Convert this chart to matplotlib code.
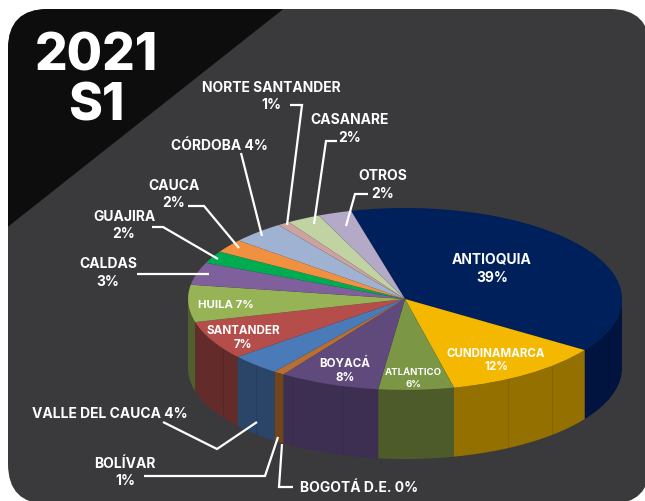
import numpy as np
import matplotlib
matplotlib.use("Agg")
import matplotlib.pyplot as plt
from matplotlib.patches import FancyBboxPatch, Polygon

plt.rcParams['font.family'] = ['Inter', 'DejaVu Sans']

regions = ["ANTIOQUIA", "CUNDINAMARCA", "ATLÁNTICO", "BOYACÁ", "BOGOTÁ D.E.", "BOLÍVAR",
           "VALLE DEL CAUCA", "SANTANDER", "HUILA", "CALDAS", "GUAJIRA", "CAUCA",
           "CÓRDOBA", "NORTE SANTANDER", "CASANARE", "OTROS"]
shares = [38.5, 11.9, 5.6, 7.5, 0.0, 0.8, 3.75, 6.9, 6.6, 4.0, 2.2, 2.4, 4.0, 0.9, 2.5, 2.5]
top_colors = ["#00205c", "#f5b800", "#7b9645", "#604a7b", "#604a7b", "#b86f33", "#4a7ab8", "#b54d4a",
              "#96b356", "#7f5f9c", "#00ac50", "#f09040", "#9fb2d2", "#cda2a0", "#c2d3a3", "#b4a9c6"]
wall_colors = ["#00143f", "#947000", "#4d5b2b", "#3d2f52", "#3d2f52", "#70441c", "#2b4569", "#632b2a",
               "#515f2f", "#3d2f52", "#005028", "#70441c", "#4a5568", "#604a4a", "#5a6248", "#544f5c"]

W, H = 645, 502
fig = plt.figure(figsize=(W / 100, H / 100), dpi=100, facecolor="white")

bg = fig.add_axes([0, 0, 1, 1])
bg.set_xlim(0, W); bg.set_ylim(H, 0); bg.axis("off")
panel = FancyBboxPatch((8 + 40, 10 + 40), 642 - 80, 495 - 80,
                       boxstyle="round,pad=40,rounding_size=40",
                       fc="#3a3a3c", ec="none")
bg.add_patch(panel)
tri = Polygon([(0, 234), (0, 0), (296, 0)], closed=True, fc="#0d0d0d", ec="none")
bg.add_patch(tri)
tri.set_clip_path(panel)

cx, cy, rx, ry, depth = 405, 300, 217, 91, 69
d = depth / ry
left, right = cx - rx, cx + rx
top, bottom = cy - ry, cy + ry + depth
ax = fig.add_axes([left / W, 1 - bottom / H, (right - left) / W, (bottom - top) / H])
wedges, _ = ax.pie(shares, colors=top_colors, startangle=104.4, counterclock=False,
                   radius=1, center=(0, 0),
                   wedgeprops=dict(linewidth=0.12, edgecolor="#00000020"))
ax.set_aspect("auto")
ax.set_xlim(-1, 1); ax.set_ylim(-1 - d, 1)
ax.axis("off")
for w, col in zip(wedges, wall_colors):
    w.set_zorder(5)
    for off in (0, -360, 360):
        a, b = max(w.theta1 + off, -180), min(w.theta2 + off, 0)
        if b > a:
            t = np.radians(np.linspace(a, b, 80))
            xs = np.cos(t); ys = np.sin(t)
            ax.fill(np.r_[xs, xs[::-1]], np.r_[ys, ys[::-1] - d], color=col, lw=0, zorder=2)

seams_px = [223, 256, 292, 342, 508, 552, 608]
for sx in seams_px:
    u = (sx - cx) / rx
    y0 = -np.sqrt(1 - u * u)
    ax.plot([u, u], [y0, y0 - d], color="#000000", alpha=0.09, lw=0.7, zorder=3)

fg = fig.add_axes([0, 0, 1, 1])
fg.set_xlim(0, W); fg.set_ylim(H, 0); fg.axis("off"); fg.patch.set_alpha(0)

def T(x, y, s, size=10.0):
    fg.text(x, y + 0.8, s, color="white", fontsize=size, fontweight="bold",
            ha="center", va="center")

fg.text(96, 57, "2021", color="white", fontsize=37, fontweight="heavy", ha="center", va="center")
fg.text(96, 107, "S1", color="white", fontsize=37, fontweight="heavy", ha="center", va="center")
T(271, 87, "NORTE SANTANDER"); T(271, 104, "1%")
T(350, 119, "CASANARE"); T(350, 137, "2%")
T(383, 175, "OTROS"); T(383, 193, "2%")
T(219, 145, "CÓRDOBA 4%")
T(174, 185, "CAUCA"); T(174, 202, "2%")
T(124, 216, "GUAJIRA"); T(124, 233, "2%")
T(108, 263, "CALDAS"); T(108, 281, "3%")
T(226, 304, "HUILA 7%", 8.2)
T(243, 330, "SANTANDER", 8.4); T(243, 344, "7%", 8.4)
T(492, 259, "ANTIOQUIA"); T(492, 277, "39%")
T(496, 353, "CUNDINAMARCA", 8.3); T(496, 366, "12%", 8.3)
T(413, 372, "ATLÁNTICO", 6.9); T(413, 384, "6%", 6.9)
T(345, 363, "BOYACÁ", 8.4); T(345, 377, "8%", 8.4)
T(110, 413, "VALLE DEL CAUCA 4%")
T(125, 463, "BOLÍVAR"); T(125, 480, "1%")
T(359, 487, "BOGOTÁ D.E. 0%")

leaders = [
    [(290, 106), (302, 106), (287, 226)],
    [(337, 142), (326, 142), (314, 225)],
    [(368, 195), (355, 195), (346, 227)],
    [(241, 154), (262, 237)],
    [(188, 207), (204, 207), (239, 249)],
    [(152, 228), (163, 228), (218, 260)],
    [(137, 275), (209, 275)],
    [(163, 423), (217, 450), (257, 423)],
    [(144, 477), (265, 477), (278, 438)],
    [(282, 445), (279, 488), (293, 488)],
]
for pts in leaders:
    xs, ys = zip(*pts)
    fg.plot(xs, ys, color="white", lw=1.6, solid_joinstyle="miter", solid_capstyle="butt")

fig.savefig("out.png", dpi=100, facecolor="white")
